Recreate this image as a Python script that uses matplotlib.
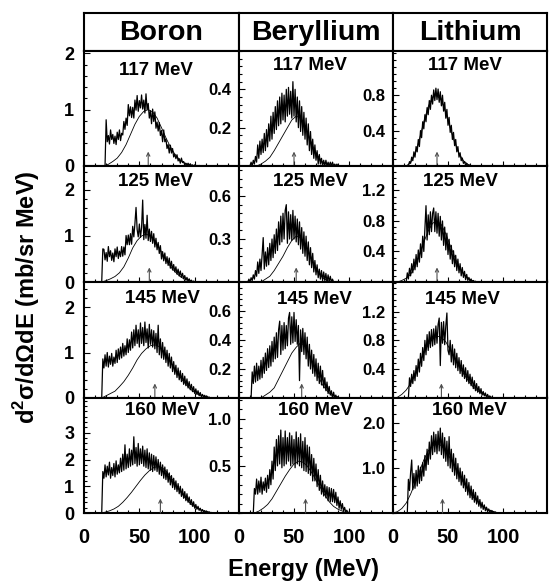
import matplotlib.pyplot as plt
from matplotlib.ticker import FixedLocator, MultipleLocator
import numpy as np

plt.rcParams['font.family'] = ['Liberation Sans', 'DejaVu Sans']
plt.rcParams['font.weight'] = 'bold'
plt.rcParams['mathtext.fontset'] = 'custom'
plt.rcParams['mathtext.bf'] = 'Liberation Sans:bold'
plt.rcParams['mathtext.rm'] = 'Liberation Sans:bold'

elements = ['Boron', 'Beryllium', 'Lithium']
beam_energies = ['117 MeV', '125 MeV', '145 MeV', '160 MeV']

# measured spectra, 1 MeV bins, first bin energy in *_start
boron_start = [19, 16, 16, 16]
boron_117 = [0.0, 0.82, 0.43, 0.54, 0.39, 0.64, 0.47, 0.56, 0.4, 0.53, 0.38, 0.6, 0.47, 0.64, 0.45, 0.58,
             0.55, 0.79, 0.65, 0.85, 0.72, 1.09, 0.89, 1.05, 0.86, 1.04, 0.85, 1.17, 0.99, 1.25, 0.97, 1.16,
             1.03, 1.26, 1.01, 1.17, 0.94, 1.28, 1.0, 1.11, 0.85, 0.98, 0.75, 1.01, 0.79, 0.96, 0.67, 0.78,
             0.62, 0.77, 0.54, 0.63, 0.43, 0.64, 0.43, 0.48, 0.31, 0.38, 0.23, 0.37, 0.23, 0.31, 0.16, 0.21,
             0.13, 0.2, 0.09, 0.13, 0.05, 0.14, 0.06, 0.08, 0.02, 0.05, 0.0, 0.05, 0.01, 0.04, 0.0, 0.02,
             0.0, 0.02, 0.0, 0.01, 0.0, 0.01, 0.0]
boron_125 = [0.0, 0.72, 0.71, 0.48, 0.64, 0.45, 0.77, 0.55, 0.68, 0.47, 0.63, 0.44, 0.72, 0.55, 0.76, 0.51,
             0.67, 0.55, 0.77, 0.56, 0.76, 0.59, 1.01, 0.81, 1.02, 0.81, 1.05, 0.82, 1.21, 0.98, 1.27, 1.62,
             1.14, 0.98, 1.26, 0.97, 1.18, 1.78, 0.92, 1.25, 0.95, 1.45, 0.9, 1.15, 0.88, 1.1, 0.84, 1.05,
             0.76, 0.95, 0.7, 0.86, 0.62, 0.79, 0.5, 0.66, 0.46, 0.63, 0.4, 0.55, 0.36, 0.52, 0.3, 0.45,
             0.26, 0.38, 0.22, 0.33, 0.17, 0.28, 0.13, 0.24, 0.1, 0.19, 0.07, 0.14, 0.04, 0.1, 0.02, 0.07,
             0.01, 0.04, 0.0, 0.02, 0.0, 0.01, 0.0]
boron_145 = [0.0, 0.86, 0.66, 0.95, 0.7, 1.0, 0.68, 0.92, 0.74, 0.98, 0.7, 0.9, 0.76, 1.05, 0.78, 1.08,
             0.85, 1.12, 0.88, 1.2, 0.92, 1.15, 0.95, 1.3, 1.0, 1.28, 1.05, 1.45, 1.1, 1.5, 1.15, 1.6,
             1.2, 1.5, 1.12, 1.65, 1.2, 1.55, 1.15, 1.67, 1.22, 1.52, 1.1, 1.62, 1.18, 1.5, 1.12, 1.48,
             1.08, 1.42, 1.0, 1.6, 0.95, 1.3, 0.88, 1.22, 0.85, 1.12, 0.78, 1.05, 0.7, 0.98, 0.66, 0.9,
             0.58, 0.8, 0.52, 0.72, 0.45, 0.66, 0.4, 0.6, 0.36, 0.54, 0.3, 0.48, 0.27, 0.42, 0.22, 0.36,
             0.18, 0.3, 0.14, 0.25, 0.1, 0.2, 0.08, 0.16, 0.05, 0.12, 0.03, 0.08, 0.02, 0.06, 0.01, 0.04,
             0.0, 0.02, 0.0, 0.01, 0.0]
boron_160 = [0.0, 1.55, 1.3, 1.8, 1.35, 1.75, 1.42, 1.9, 1.3, 1.7, 1.4, 1.85, 1.35, 1.95, 1.45, 1.8,
             1.5, 2.05, 1.55, 2.2, 1.6, 2.55, 1.65, 2.2, 1.7, 2.4, 1.75, 2.35, 1.8, 2.85, 1.85, 2.45,
             1.75, 2.6, 1.8, 2.4, 1.85, 2.5, 1.75, 2.35, 1.7, 2.4, 1.65, 2.25, 1.6, 2.2, 1.55, 2.15,
             1.6, 2.1, 1.55, 2.0, 1.45, 1.9, 1.4, 1.8, 1.3, 1.72, 1.25, 1.62, 1.15, 1.5, 1.05, 1.4,
             0.95, 1.3, 0.88, 1.2, 0.8, 1.1, 0.72, 1.0, 0.62, 0.9, 0.55, 0.8, 0.46, 0.72, 0.4, 0.6,
             0.32, 0.5, 0.25, 0.42, 0.18, 0.32, 0.14, 0.25, 0.1, 0.18, 0.06, 0.13, 0.04, 0.09, 0.02, 0.06,
             0.01, 0.04, 0.0, 0.02, 0.0, 0.01, 0.0]

beryllium_start = [10, 8, 11, 13]
beryllium_117 = [0.0, 0.02, 0.0, 0.03, 0.01, 0.05, 0.02, 0.11, 0.04, 0.13, 0.06, 0.14, 0.07, 0.17, 0.08, 0.19,
                 0.1, 0.22, 0.13, 0.26, 0.14, 0.28, 0.17, 0.31, 0.19, 0.34, 0.21, 0.36, 0.22, 0.38, 0.24, 0.37,
                 0.23, 0.4, 0.26, 0.41, 0.27, 0.39, 0.25, 0.44, 0.26, 0.4, 0.23, 0.36, 0.2, 0.34, 0.18, 0.31,
                 0.16, 0.28, 0.14, 0.25, 0.11, 0.22, 0.08, 0.18, 0.06, 0.14, 0.04, 0.11, 0.03, 0.08, 0.01, 0.06,
                 0.01, 0.04, 0.0, 0.03, 0.0, 0.03, 0.0, 0.02, 0.0, 0.02, 0.0, 0.02, 0.0, 0.01, 0.0, 0.01, 0.0]
beryllium_125 = [0.0, 0.02, 0.0, 0.03, 0.01, 0.05, 0.02, 0.08, 0.04, 0.14, 0.06, 0.16, 0.08, 0.19, 0.31, 0.09,
                 0.21, 0.11, 0.24, 0.12, 0.27, 0.15, 0.3, 0.17, 0.33, 0.2, 0.37, 0.22, 0.42, 0.26, 0.46, 0.28,
                 0.48, 0.3, 0.5, 0.54, 0.27, 0.49, 0.3, 0.47, 0.29, 0.5, 0.3, 0.46, 0.28, 0.44, 0.26, 0.42,
                 0.23, 0.38, 0.2, 0.35, 0.18, 0.32, 0.15, 0.28, 0.12, 0.24, 0.1, 0.2, 0.07, 0.15, 0.05, 0.12,
                 0.03, 0.09, 0.02, 0.08, 0.01, 0.07, 0.01, 0.06, 0.0, 0.05, 0.0, 0.04, 0.0, 0.02, 0.0]
beryllium_145 = [0.0, 0.18, 0.1, 0.22, 0.11, 0.24, 0.12, 0.22, 0.13, 0.26, 0.14, 0.28, 0.17, 0.31, 0.19, 0.34,
                 0.21, 0.36, 0.22, 0.39, 0.25, 0.42, 0.27, 0.45, 0.28, 0.47, 0.53, 0.3, 0.5, 0.33, 0.52, 0.34,
                 0.5, 0.36, 0.55, 0.59, 0.37, 0.56, 0.38, 0.59, 0.39, 0.54, 0.37, 0.5, 0.12, 0.47, 0.32, 0.48,
                 0.3, 0.45, 0.27, 0.42, 0.22, 0.37, 0.2, 0.33, 0.17, 0.3, 0.15, 0.27, 0.12, 0.24, 0.1, 0.22,
                 0.09, 0.19, 0.07, 0.14, 0.05, 0.11, 0.03, 0.08, 0.02, 0.05, 0.0, 0.04, 0.0, 0.02, 0.0, 0.01, 0.0]
beryllium_160 = [0.0, 0.26, 0.2, 0.36, 0.2, 0.34, 0.22, 0.38, 0.2, 0.33, 0.24, 0.37, 0.22, 0.4, 0.26, 0.46,
                 0.3, 0.55, 0.36, 0.7, 0.45, 0.78, 0.5, 0.82, 0.52, 0.88, 0.48, 0.8, 0.5, 0.87, 0.52, 0.8,
                 0.55, 0.85, 0.5, 0.82, 0.52, 0.78, 0.48, 0.86, 0.52, 0.8, 0.5, 0.84, 0.48, 0.76, 0.45, 0.8,
                 0.44, 0.72, 0.42, 0.7, 0.4, 0.62, 0.34, 0.58, 0.34, 0.52, 0.28, 0.46, 0.24, 0.4, 0.2, 0.34,
                 0.18, 0.3, 0.16, 0.28, 0.13, 0.27, 0.12, 0.26, 0.12, 0.25, 0.11, 0.22, 0.08, 0.17, 0.05, 0.13,
                 0.04, 0.1, 0.02, 0.06, 0.01, 0.03, 0.0, 0.01, 0.0]

lithium_start = [14, 12, 14, 13]
lithium_117 = [0.0, 0.05, 0.03, 0.1, 0.06, 0.16, 0.1, 0.22, 0.16, 0.3, 0.22, 0.4, 0.32, 0.5, 0.42, 0.58,
               0.5, 0.66, 0.58, 0.74, 0.64, 0.8, 0.7, 0.86, 0.74, 0.88, 0.75, 0.87, 0.72, 0.84, 0.68, 0.8,
               0.62, 0.72, 0.54, 0.64, 0.46, 0.55, 0.38, 0.46, 0.3, 0.38, 0.23, 0.3, 0.16, 0.22, 0.1, 0.15,
               0.06, 0.09, 0.03, 0.05, 0.01, 0.03, 0.0, 0.01, 0.0]
lithium_125 = [0.0, 0.12, 0.04, 0.18, 0.08, 0.24, 0.12, 0.3, 0.16, 0.36, 0.2, 0.42, 0.26, 0.5, 0.32, 0.6,
               0.4, 0.7, 1.0, 0.55, 0.88, 0.62, 0.92, 0.66, 0.9, 0.97, 0.66, 0.92, 0.64, 0.9, 0.6, 0.86,
               0.55, 0.8, 0.48, 0.72, 0.42, 0.64, 0.36, 0.56, 0.3, 0.48, 0.24, 0.41, 0.2, 0.35, 0.15, 0.3,
               0.12, 0.24, 0.08, 0.19, 0.06, 0.14, 0.03, 0.1, 0.02, 0.06, 0.01, 0.04, 0.0, 0.02, 0.0, 0.01, 0.0]
lithium_145 = [0.0, 0.28, 0.16, 0.33, 0.2, 0.38, 0.24, 0.45, 0.3, 0.54, 0.36, 0.62, 0.44, 0.7, 0.52, 0.8,
               0.6, 0.88, 0.66, 0.92, 0.7, 0.95, 0.72, 0.96, 0.74, 1.0, 0.76, 1.02, 1.11, 0.45, 1.05, 0.76,
               1.06, 0.74, 1.0, 1.18, 0.66, 0.6, 0.8, 0.5, 0.74, 0.46, 0.68, 0.42, 0.62, 0.38, 0.56, 0.34,
               0.52, 0.3, 0.46, 0.27, 0.42, 0.23, 0.38, 0.2, 0.33, 0.17, 0.29, 0.13, 0.24, 0.1, 0.2, 0.08,
               0.16, 0.06, 0.13, 0.04, 0.09, 0.03, 0.07, 0.01, 0.05, 0.0, 0.03, 0.0, 0.01, 0.0]
lithium_160 = [0.0, 0.75, 0.5, 0.9, 1.18, 0.52, 0.88, 0.55, 0.95, 0.6, 1.05, 0.66, 1.02, 0.72, 1.12, 0.82,
               1.28, 0.95, 1.42, 1.08, 1.58, 1.2, 1.72, 1.3, 1.8, 1.36, 1.75, 1.32, 1.82, 1.38, 1.89, 1.3,
               1.78, 1.22, 1.68, 1.15, 1.6, 1.05, 1.7, 1.0, 1.42, 0.92, 1.32, 0.84, 1.22, 0.76, 1.1, 0.7,
               1.0, 0.62, 0.92, 0.56, 0.84, 0.48, 0.76, 0.4, 0.68, 0.34, 0.6, 0.3, 0.52, 0.24, 0.46, 0.2,
               0.38, 0.15, 0.3, 0.11, 0.24, 0.08, 0.18, 0.05, 0.13, 0.03, 0.09, 0.02, 0.06, 0.01, 0.03, 0.0,
               0.02, 0.0]

# calculated curves, 4 MeV steps, first point energy in *_fit_start
boron_fit_start = [18, 16, 16, 15]
boron_117_fit = [0, 0.03, 0.08, 0.14, 0.24, 0.38, 0.56, 0.74, 0.88, 0.97, 1.0, 0.96, 0.85, 0.68, 0.5, 0.34,
                 0.21, 0.12, 0.06, 0.03, 0.01, 0]
boron_125_fit = [0, 0.03, 0.07, 0.12, 0.2, 0.33, 0.52, 0.74, 0.9, 1.0, 1.04, 1.0, 0.9, 0.74, 0.57, 0.41,
                 0.28, 0.18, 0.1, 0.05, 0.02, 0]
boron_145_fit = [0, 0.05, 0.1, 0.15, 0.25, 0.36, 0.5, 0.66, 0.84, 0.98, 1.08, 1.15, 1.17, 1.13, 1.03, 0.88,
                 0.72, 0.56, 0.42, 0.3, 0.2, 0.12, 0.07, 0.04, 0.02, 0]
boron_160_fit = [0, 0.03, 0.08, 0.15, 0.25, 0.4, 0.58, 0.78, 1.0, 1.22, 1.42, 1.58, 1.7, 1.74, 1.68, 1.52,
                 1.3, 1.05, 0.8, 0.58, 0.4, 0.26, 0.16, 0.09, 0.05, 0.02, 0]

beryllium_fit_start = [16, 20, 20, 14]
beryllium_117_fit = [0, 0.01, 0.025, 0.045, 0.08, 0.12, 0.16, 0.2, 0.24, 0.26, 0.25, 0.21, 0.15, 0.09, 0.05,
                     0.02, 0.01, 0]
beryllium_125_fit = [0, 0.02, 0.04, 0.08, 0.13, 0.18, 0.24, 0.29, 0.32, 0.31, 0.27, 0.2, 0.13, 0.07, 0.03,
                     0.01, 0]
beryllium_145_fit = [0, 0.02, 0.04, 0.07, 0.13, 0.19, 0.25, 0.31, 0.35, 0.38, 0.36, 0.3, 0.22, 0.15, 0.09,
                     0.05, 0.02, 0.01, 0]
beryllium_160_fit = [0, 0.02, 0.05, 0.09, 0.15, 0.23, 0.31, 0.39, 0.46, 0.52, 0.55, 0.54, 0.5, 0.43, 0.35,
                     0.27, 0.19, 0.12, 0.07, 0.04, 0.02, 0]

lithium_fit_start = [12, 4, 0, 0]
lithium_117_fit = [0, 0.04, 0.13, 0.3, 0.5, 0.67, 0.78, 0.8, 0.74, 0.6, 0.43, 0.27, 0.14, 0.06, 0.02, 0]
lithium_125_fit = [0, 0.02, 0.05, 0.1, 0.2, 0.35, 0.52, 0.67, 0.77, 0.8, 0.75, 0.63, 0.48, 0.33, 0.2, 0.11,
                   0.05, 0.02, 0]
lithium_145_fit = [0, 0.01, 0.05, 0.11, 0.2, 0.32, 0.48, 0.62, 0.74, 0.82, 0.86, 0.84, 0.78, 0.67, 0.55, 0.44,
                   0.34, 0.25, 0.17, 0.11, 0.07, 0.04, 0.02, 0]
lithium_160_fit = [0, 0.03, 0.1, 0.22, 0.42, 0.66, 0.92, 1.18, 1.38, 1.5, 1.55, 1.5, 1.38, 1.22, 1.04, 0.86,
                   0.68, 0.52, 0.38, 0.27, 0.18, 0.11, 0.06, 0.03, 0]

# arrow energies (MeV)
boron_arrow = [58, 59, 64, 69]
beryllium_arrow = [50, 52, 57, 60.5]
lithium_arrow = [40, 40, 44, 45]

# axis settings per row
boron_ylim = [2.04, 2.52, 2.55, 4.3]
beryllium_ylim = [0.6, 0.81, 0.8, 1.22]
lithium_ylim = [1.3, 1.52, 1.61, 2.56]
boron_ticks = [[0, 1, 2], [0, 1, 2], [0, 1, 2], [0, 1, 2, 3]]
beryllium_ticks = [[0.2, 0.4], [0.3, 0.6], [0.2, 0.4, 0.6], [0.5, 1.0]]
lithium_ticks = [[0.4, 0.8], [0.4, 0.8, 1.2], [0.4, 0.8, 1.2], [1.0, 2.0]]
boron_minor = [0.2, 0.2, 0.2, 0.2]
beryllium_minor = [0.04, 0.06, 0.04, 0.1]
lithium_minor = [0.08, 0.08, 0.08, 0.2]

spectra = [[boron_117, boron_125, boron_145, boron_160],
           [beryllium_117, beryllium_125, beryllium_145, beryllium_160],
           [lithium_117, lithium_125, lithium_145, lithium_160]]
spec_start = [boron_start, beryllium_start, lithium_start]
fits = [[boron_117_fit, boron_125_fit, boron_145_fit, boron_160_fit],
        [beryllium_117_fit, beryllium_125_fit, beryllium_145_fit, beryllium_160_fit],
        [lithium_117_fit, lithium_125_fit, lithium_145_fit, lithium_160_fit]]
fit_start = [boron_fit_start, beryllium_fit_start, lithium_fit_start]
arrows = [boron_arrow, beryllium_arrow, lithium_arrow]
ylims = [boron_ylim, beryllium_ylim, lithium_ylim]
yticks = [boron_ticks, beryllium_ticks, lithium_ticks]
yminor = [boron_minor, beryllium_minor, lithium_minor]

# label placement inside panels (axes fraction)
label_x = [[0.465, 0.46, 0.506, 0.506], [0.458, 0.464, 0.49, 0.494], [0.468, 0.435, 0.45, 0.497]]
label_y = [[0.83, 0.865, 0.857, 0.89], [0.878, 0.865, 0.845, 0.89], [0.878, 0.865, 0.845, 0.89]]

W, H = 550, 582
fig = plt.figure(figsize=(W / 100, H / 100), dpi=100)

col_left = [84, 239, 393]
col_w = [155, 154, 154]
row_top = [51, 166, 282, 398]
row_h = [115, 116, 116, 115]
frame_lw = 1.5

for c in range(3):
    hax = fig.add_axes([col_left[c] / W, 1 - 51 / H, col_w[c] / W, 38 / H])
    hax.set_xticks([])
    hax.set_yticks([])
    for s in hax.spines.values():
        s.set_linewidth(frame_lw)
    hax.text(0.5, 0.47, elements[c], transform=hax.transAxes, ha='center', va='center',
             fontsize=20.5, fontweight='bold')

for c in range(3):
    for r in range(4):
        ax = fig.add_axes([col_left[c] / W, 1 - (row_top[r] + row_h[r]) / H, col_w[c] / W, row_h[r] / H])
        vals = spectra[c][r]
        e = spec_start[c][r] + np.arange(len(vals))
        ax.plot(e, vals, color='k', lw=0.9)
        fv = fits[c][r]
        ef = fit_start[c][r] + 4 * np.arange(len(fv))
        ax.plot(ef, fv, color='k', lw=0.6)
        ax.annotate('', xy=(arrows[c][r], 0.125), xytext=(arrows[c][r], 0.0),
                    xycoords=('data', 'axes fraction'), textcoords=('data', 'axes fraction'),
                    arrowprops=dict(arrowstyle='->', lw=0.8, color='0.3', mutation_scale=6,
                                    shrinkA=0, shrinkB=0))
        ax.text(label_x[c][r], label_y[c][r], beam_energies[r], transform=ax.transAxes,
                ha='center', va='center', fontsize=13.5, fontweight='bold')

        ax.set_xlim(0, 140)
        ax.set_ylim(0, ylims[c][r])
        ax.xaxis.set_major_locator(FixedLocator([0, 50, 100]))
        ax.xaxis.set_minor_locator(MultipleLocator(10))
        ax.yaxis.set_major_locator(FixedLocator(yticks[c][r]))
        ax.yaxis.set_minor_locator(MultipleLocator(yminor[c][r]))
        if c == 0:
            ax.set_yticklabels([str(t) for t in yticks[c][r]])
            ax.tick_params(axis='y', which='major', labelsize=13, pad=7)
        else:
            ax.set_yticklabels(['%.1f' % t for t in yticks[c][r]])
            ax.tick_params(axis='y', which='major', labelsize=12, pad=5.5)
        ax.tick_params(axis='both', which='both', direction='in', top=False, right=False, width=0.8)
        ax.tick_params(axis='y', which='major', length=4.3)
        ax.tick_params(axis='y', which='minor', length=2.2)
        ax.tick_params(axis='x', which='major', length=3.6)
        ax.tick_params(axis='x', which='minor', length=2.2)
        if r == 3:
            ax.tick_params(axis='x', labelsize=14.5, pad=11)
        else:
            ax.tick_params(axis='x', labelbottom=False)
        for s in ax.spines.values():
            s.set_linewidth(frame_lw)

fig.text(27 / W, 1 - 297 / H, r'd$^{\mathbf{2}}$σ/dΩdE (mb/sr MeV)', rotation=90,
         ha='center', va='center', fontsize=17, fontweight='bold')
fig.text(303.5 / W, 1 - 576 / H, 'Energy (MeV)', ha='center', va='baseline',
         fontsize=17, fontweight='bold')

fig.savefig('out.png', dpi=100)
